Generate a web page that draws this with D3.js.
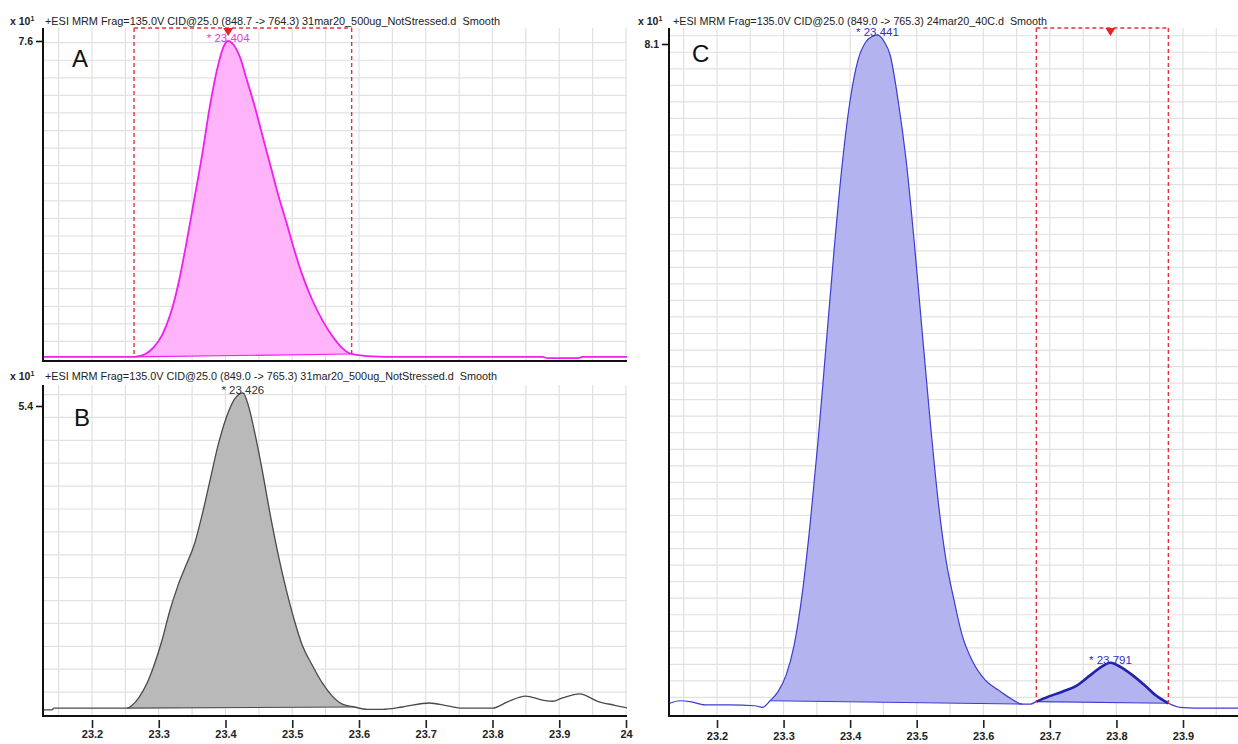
<!DOCTYPE html>
<html><head><meta charset="utf-8">
<script src="https://cdn.jsdelivr.net/npm/d3@7"></script>
<style>
body{margin:0;background:#fff}
svg{display:block}
text{font-family:"Liberation Sans",Arial,sans-serif}
</style>
</head><body>
<svg id="chart" width="1238" height="744"></svg>
<script>
// ---------------- DATA ----------------
const headerA = "+ESI MRM Frag=135.0V CID@25.0 (848.7 -> 764.3) 31mar20_500ug_NotStressed.d  Smooth";
const headerB = "+ESI MRM Frag=135.0V CID@25.0 (849.0 -> 765.3) 31mar20_500ug_NotStressed.d  Smooth";
const headerC = "+ESI MRM Frag=135.0V CID@25.0 (849.0 -> 765.3) 24mar20_40C.d  Smooth";

const timeA = [23.127, 23.215, 23.263, 23.280, 23.293, 23.305, 23.317, 23.329, 23.341, 23.353, 23.365, 23.377, 23.389, 23.397, 23.404, 23.412, 23.422, 23.432, 23.443, 23.455, 23.467, 23.479, 23.491, 23.503, 23.515, 23.530, 23.545, 23.560, 23.575, 23.589, 23.612, 23.665, 23.875, 23.882, 23.927, 23.935, 24.005];
const intensityA = [0.05, 0.05, 0.05, 0.12, 0.29, 0.57, 1.05, 1.77, 2.73, 3.80, 4.88, 6.08, 7.03, 7.46, 7.60, 7.51, 7.20, 6.67, 6.08, 5.36, 4.64, 3.92, 3.28, 2.61, 2.01, 1.41, 0.93, 0.55, 0.26, 0.12, 0.07, 0.05, 0.05, 0.02, 0.02, 0.05, 0.05];

const timeB = [23.127, 23.140, 23.143, 23.2525, 23.260, 23.2705, 23.2825, 23.293, 23.305, 23.317, 23.329, 23.341, 23.353, 23.365, 23.377, 23.389, 23.401, 23.413, 23.426, 23.434, 23.443, 23.455, 23.467, 23.479, 23.491, 23.503, 23.515, 23.530, 23.545, 23.560, 23.575, 23.593, 23.6125, 23.635, 23.665, 23.7055, 23.7325, 23.755, 23.800, 23.8225, 23.8495, 23.875, 23.890, 23.905, 23.9305, 23.9575, 23.983, 24.003];
const intensityB = [0.09, 0.09, 0.12, 0.12, 0.17, 0.31, 0.56, 0.87, 1.31, 1.84, 2.27, 2.62, 2.97, 3.50, 4.11, 4.72, 5.19, 5.51, 5.63, 5.42, 4.98, 4.28, 3.50, 2.80, 2.19, 1.66, 1.22, 0.87, 0.56, 0.33, 0.19, 0.14, 0.10, 0.10, 0.14, 0.21, 0.16, 0.12, 0.12, 0.23, 0.33, 0.26, 0.24, 0.30, 0.37, 0.24, 0.17, 0.12];

const timeC = [23.129, 23.1444, 23.1594, 23.182, 23.2195, 23.257, 23.268, 23.2797, 23.2917, 23.3038, 23.3158, 23.3278, 23.3398, 23.3519, 23.3639, 23.3759, 23.388, 23.400, 23.412, 23.424, 23.433, 23.441, 23.451, 23.460, 23.472, 23.484, 23.496, 23.508, 23.520, 23.532, 23.544, 23.556, 23.568, 23.583, 23.603, 23.6226, 23.6406, 23.6586, 23.6707, 23.6797, 23.6977, 23.7188, 23.7398, 23.7609, 23.779, 23.791, 23.806, 23.824, 23.842, 23.860, 23.878, 23.896, 23.9188, 23.9414, 23.983];
const intensityC = [0.13, 0.16, 0.15, 0.11, 0.11, 0.10, 0.08, 0.16, 0.27, 0.47, 0.83, 1.44, 2.29, 3.31, 4.46, 5.61, 6.64, 7.42, 7.91, 8.13, 8.19, 8.21, 8.13, 7.97, 7.42, 6.70, 5.73, 4.64, 3.56, 2.59, 1.86, 1.38, 0.96, 0.65, 0.41, 0.29, 0.19, 0.12, 0.12, 0.15, 0.21, 0.27, 0.34, 0.47, 0.58, 0.62, 0.57, 0.47, 0.35, 0.22, 0.13, 0.08, 0.07, 0.07, 0.07];

const peaksA = [23.404];
const peaksB = [23.426];
const peaksC = [23.441, 23.791];

const integrationA = [[23.263, 23.589]];
const integrationB = [[23.2525, 23.593]];
const integrationC = [[23.2797, 23.6586], [23.6797, 23.878]];

const markedA = [23.263, 23.589];   // red dashed window
const markedC = [23.6797, 23.878];

const yTickA = [7.6];
const yTickB = [5.4];
const yTickC = [8.1];

const xTicksB = [23.2, 23.3, 23.4, 23.5, 23.6, 23.7, 23.8, 23.9, 24];
const xTicksC = [23.2, 23.3, 23.4, 23.5, 23.6, 23.7, 23.8, 23.9];

const gridStepX = 0.05;

// ---------------- DRAW ----------------
const svg = d3.select("#chart");
const fmt = d => String(+d.toFixed(3));

function panel(cfg) {
  const g = svg.append("g");
  const x = cfg.x, y = cfg.y;
  const data = cfg.time.map((t, i) => ({t, v: cfg.values[i]}));
  const clipId = "clip" + cfg.id;
  svg.append("clipPath").attr("id", clipId).append("rect")
    .attr("x", cfg.left).attr("y", cfg.top)
    .attr("width", cfg.right - cfg.left).attr("height", cfg.axisY - cfg.top);

  // grid
  const grid = g.append("g").attr("stroke", "#e1e1e1").attr("stroke-width", 1.2);
  const [d0, d1] = [x.invert(cfg.left), x.invert(cfg.right)];
  d3.range(Math.ceil(d0 / gridStepX) * gridStepX, d1, gridStepX).forEach(t => {
    grid.append("line").attr("x1", x(t)).attr("x2", x(t))
      .attr("y1", cfg.top).attr("y2", cfg.axisY);
  });
  const vMax = y.invert(cfg.top);
  d3.range(cfg.gridStepY, vMax, cfg.gridStepY).forEach(v => {
    grid.append("line").attr("x1", cfg.left).attr("x2", cfg.right)
      .attr("y1", y(v)).attr("y2", y(v));
  });

  const plot = g.append("g").attr("clip-path", `url(#${clipId})`);
  const line = d3.line().x(d => x(d.t)).y(d => y(d.v)).curve(d3.curveMonotoneX);

  // integration fill
  cfg.integrations.forEach(([s, e]) => {
    const seg = data.filter(d => d.t >= s - 1e-9 && d.t <= e + 1e-9);
    const vs = seg[0].v, ve = seg[seg.length - 1].v;
    const base = t => vs + (ve - vs) * (t - s) / (e - s);
    const area = d3.area().x(d => x(d.t)).y0(d => y(base(d.t))).y1(d => y(d.v)).curve(d3.curveMonotoneX);
    plot.append("path").datum(seg).attr("d", area).attr("fill", cfg.fill).attr("stroke", "none");
    plot.append("line").attr("x1", x(s)).attr("x2", x(e)).attr("y1", y(vs)).attr("y2", y(ve))
      .attr("stroke", cfg.stroke).attr("stroke-width", 1.2);
  });

  // full trace
  plot.append("path").datum(data).attr("d", line).attr("fill", "none")
    .attr("stroke", cfg.stroke).attr("stroke-width", cfg.lineWidth);

  // emphasised segments
  (cfg.bold || []).forEach(([s, e]) => {
    const seg = data.filter(d => d.t >= s - 1e-9 && d.t <= e + 1e-9);
    plot.append("path").datum(seg).attr("d", line).attr("fill", "none")
      .attr("stroke", cfg.boldStroke).attr("stroke-width", cfg.boldWidth);
  });

  // red dashed window
  if (cfg.marked) {
    const [s, e] = cfg.marked;
    const vAt = t => data.find(d => Math.abs(d.t - t) < 1e-9).v;
    const red = g.append("g").attr("stroke", "#e8303a").attr("stroke-width", 1.4)
      .attr("stroke-dasharray", "4,3").attr("fill", "none");
    red.append("line").attr("x1", x(s)).attr("x2", x(s)).attr("y1", cfg.top).attr("y2", y(vAt(s)));
    red.append("line").attr("x1", x(e)).attr("x2", x(e)).attr("y1", cfg.top).attr("y2", y(vAt(e)));
    red.append("line").attr("x1", x(s)).attr("x2", x(e)).attr("y1", cfg.top).attr("y2", cfg.top);
  }
  if (cfg.triangle != null) {
    const tx = x(cfg.triangle);
    g.append("path").attr("d", `M${tx - 5},${cfg.top} L${tx + 5},${cfg.top} L${tx},${cfg.top + 8} Z`)
      .attr("fill", "#e8202a");
  }

  // peak labels
  cfg.peaks.forEach(p => {
    const d = data.find(q => Math.abs(q.t - p) < 1e-9);
    g.append("text").attr("x", x(p)).attr("y", y(d.v) + cfg.labelDy)
      .attr("text-anchor", "middle").attr("font-size", 11.5).attr("fill", cfg.labelColor)
      .text("* " + p.toFixed(3));
  });

  // axes
  g.append("line").attr("x1", cfg.left).attr("x2", cfg.left).attr("y1", cfg.top).attr("y2", cfg.axisY + 1)
    .attr("stroke", "#111").attr("stroke-width", 2);
  g.append("line").attr("x1", cfg.left - 1).attr("x2", cfg.right).attr("y1", cfg.axisY).attr("y2", cfg.axisY)
    .attr("stroke", "#111").attr("stroke-width", 2);

  const yAx = g.append("g").attr("transform", `translate(${cfg.left},0)`)
    .call(d3.axisLeft(y).tickValues(cfg.yTicks).tickSize(7).tickPadding(3).tickFormat(fmt));
  yAx.select(".domain").remove();
  yAx.selectAll("line").attr("stroke", "#111").attr("stroke-width", 1.6);
  yAx.selectAll("text").attr("font-family", '"Liberation Sans",Arial,sans-serif')
    .attr("font-size", 10.5).attr("font-weight", "bold").attr("fill", "#222");

  if (cfg.xTicks) {
    const xAx = g.append("g").attr("transform", `translate(0,${cfg.axisY + 4})`)
      .call(d3.axisBottom(x).tickValues(cfg.xTicks).tickSize(8).tickPadding(cfg.xPad).tickFormat(fmt));
    xAx.select(".domain").remove();
    xAx.selectAll("line").attr("stroke", "#222").attr("stroke-width", 1.6);
    xAx.selectAll("text").attr("font-family", '"Liberation Sans",Arial,sans-serif')
      .attr("font-size", 11).attr("font-weight", "bold").attr("fill", "#222");
  }

  // header
  const hx = g.append("text").attr("x", cfg.factorX).attr("y", cfg.headerY)
    .attr("font-size", 10.5).attr("font-weight", "bold").attr("fill", "#222");
  hx.append("tspan").text("x 10");
  hx.append("tspan").attr("font-size", 7).attr("dy", -4).text("1");
  g.append("text").attr("x", cfg.headerX).attr("y", cfg.headerY)
    .attr("font-size", 11).attr("fill", "#222").style("white-space", "pre")
    .attr("textLength", cfg.headerLen).attr("lengthAdjust", "spacingAndGlyphs")
    .text(cfg.header);

  // panel letter
  g.append("text").attr("x", cfg.letterX).attr("y", cfg.letterY)
    .attr("font-size", 24).attr("fill", "#111").text(cfg.letter);
}

const xA = d3.scaleLinear().domain([23.2, 24]).range([92, 626]);
const xB = d3.scaleLinear().domain([23.2, 24]).range([92, 626]);
const xC = d3.scaleLinear().domain([23.2, 23.9]).range([717, 1183]);

panel({
  id: "A", left: 43, right: 627, top: 28, axisY: 361,
  x: xA, y: d3.scaleLinear().domain([0, 7.6]).range([359, 41]),
  time: timeA, values: intensityA, gridStepY: 0.42,
  fill: "#ffb3f8", stroke: "#f01ef0", lineWidth: 1.8,
  integrations: integrationA, marked: markedA, triangle: 23.404,
  peaks: peaksA, labelColor: "#e23ae2", labelDy: 1,
  yTicks: yTickA, xTicks: null, xPad: 5,
  header: headerA, headerX: 45, headerY: 25, headerLen: 455, factorX: 10,
  letter: "A", letterX: 72, letterY: 67
});

panel({
  id: "B", left: 43, right: 627, top: 385, axisY: 716,
  x: xB, y: d3.scaleLinear().domain([0, 5.4]).range([715, 406]),
  time: timeB, values: intensityB, gridStepY: 0.4,
  fill: "#b9b9b9", stroke: "#4a4a4a", lineWidth: 1.3,
  integrations: integrationB, marked: null, triangle: null,
  peaks: peaksB, labelColor: "#333", labelDy: 1,
  yTicks: yTickB, xTicks: xTicksB, xPad: 2,
  header: headerB, headerX: 45, headerY: 380, headerLen: 452, factorX: 10,
  letter: "B", letterX: 74, letterY: 426
});

panel({
  id: "C", left: 669, right: 1238, top: 28, axisY: 716,
  x: xC, y: d3.scaleLinear().domain([0, 8.1]).range([714, 44]),
  time: timeC, values: intensityC, gridStepY: 0.2,
  fill: "#b3b3f0", stroke: "#3c3cd0", lineWidth: 1.2,
  bold: [integrationC[1]], boldStroke: "#2222aa", boldWidth: 2.6,
  integrations: integrationC, marked: markedC, triangle: 23.791,
  peaks: peaksC, labelColor: "#2f2fc0", labelDy: 1,
  yTicks: yTickC, xTicks: xTicksC, xPad: 4,
  header: headerC, headerX: 673, headerY: 25, headerLen: 374, factorX: 638,
  letter: "C", letterX: 692, letterY: 62
});
</script>
</body></html>
